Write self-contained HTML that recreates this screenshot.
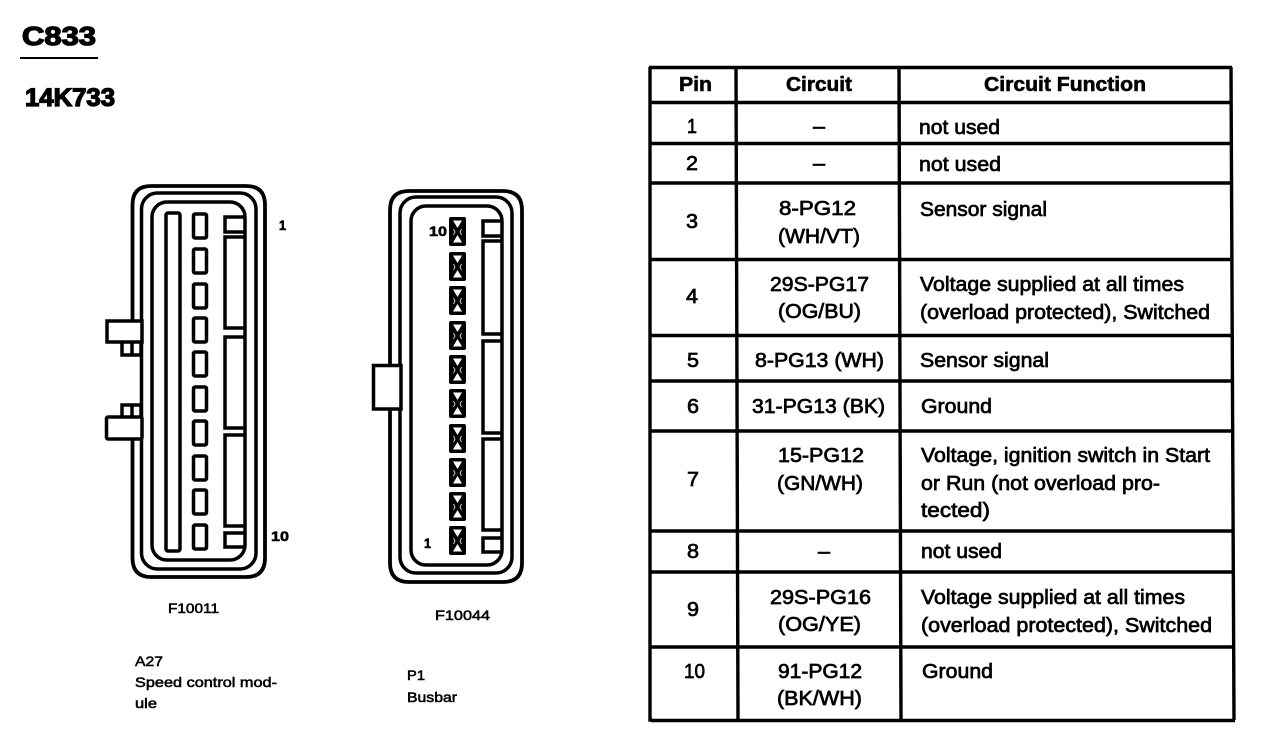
<!DOCTYPE html>
<html><head><meta charset="utf-8"><style>
html,body{margin:0;padding:0;background:#fff}
svg{display:block}
text{font-family:"Liberation Sans",sans-serif;fill:#000;stroke:#000;stroke-width:.7}
.b{font-weight:bold;stroke-width:.6}
.h{font-weight:bold;stroke-width:1.3}
.t{font-size:20px}
.s{font-size:14px;stroke-width:.55}
.l{fill:none;stroke:#000;stroke-width:3.5}
.f{stroke-width:3.8}
</style></head><body>
<svg width="1264" height="756" viewBox="0 0 1264 756" xmlns="http://www.w3.org/2000/svg">
<defs>
<g id="p"><rect x="193.500" y="0" width="13" height="24" rx="1.500" class="l" transform="translate(0,1)"/></g>
<g id="x">
<rect x="449" y="0" width="17" height="29" rx="2" fill="#000"/>
<path d="M453 3.500h9l-4.500 7.500zM453 25.500h9l-4.500-7.500z" fill="#fff"/>
<path d="M453.500 12l1.500 3-1.500 3M461.500 12l-1.500 3 1.500 3" fill="none" stroke="#fff" stroke-width=".8"/>
</g>
</defs>

<!-- Titles -->
<text x="22" y="45" class="h" font-size="26" textLength="74" lengthAdjust="spacingAndGlyphs">C833</text>
<path d="M20 58H98" stroke="#000" stroke-width="2"/>
<text x="25" y="106" class="h" font-size="25" textLength="90" lengthAdjust="spacingAndGlyphs">14K733</text>

<!-- Connector 1 -->
<path class="l f" d="M132.500 321V205Q132.500 186 151 186H246Q265 186 265 205V558Q265 577 246 577H151Q132.500 577 132.500 558V439"/>
<rect class="l" x="141.500" y="193" width="114.500" height="376" rx="16"/>
<rect class="l" x="152" y="202" width="93" height="358" rx="15"/>
<rect class="l" x="166" y="213" width="14" height="338" rx="2"/>
<use href="#p" y="213"/><use href="#p" y="248"/><use href="#p" y="283"/><use href="#p" y="317"/><use href="#p" y="351"/>
<use href="#p" y="386"/><use href="#p" y="420"/><use href="#p" y="455"/><use href="#p" y="489"/><use href="#p" y="524"/>
<path class="l" d="M245 217H225V232H245M245 237H225V328H245M245 337H225V428H245M245 435H225V526H245M245 533H225V547H245"/>
<rect x="107" y="321" width="35" height="21" class="l" style="fill:#fff"/>
<path class="l" d="M141 342V355H122V342M132 342V355"/>
<rect x="106.500" y="417" width="35.500" height="22" rx="1.500" class="l" style="fill:#fff"/>
<path class="l" d="M141 417V405H122V417M132 405V417"/>
<text x="279" y="230" class="b s" textLength="7" lengthAdjust="spacingAndGlyphs">1</text>
<text x="271" y="541" class="b s" textLength="18" lengthAdjust="spacingAndGlyphs">10</text>

<!-- Connector 2 -->
<path class="l f" d="M390 365V210Q390 191 409 191H503Q522 191 522 210V563Q522 582 503 582H409Q390 582 390 563V409"/>
<rect class="l" x="400" y="197" width="112" height="376" rx="16"/>
<rect class="l" x="411" y="206" width="91" height="359" rx="15"/>
<use href="#x" y="217"/><use href="#x" y="252"/><use href="#x" y="286"/><use href="#x" y="321"/><use href="#x" y="355"/>
<use href="#x" y="389"/><use href="#x" y="424"/><use href="#x" y="458"/><use href="#x" y="492"/><use href="#x" y="526"/>
<path class="l" d="M502 221H483V236H502M502 241H483V334H502M502 341H483V433H502M502 439H483V530H502M502 538H483V552H502"/>
<rect x="373.500" y="365.500" width="27.500" height="43.500" class="l" style="fill:#fff"/>
<text x="429" y="236" class="b s" textLength="18" lengthAdjust="spacingAndGlyphs">10</text>
<text x="424" y="548" class="b s" textLength="7" lengthAdjust="spacingAndGlyphs">1</text>

<!-- Captions -->
<text x="168" y="613" class="s" textLength="51" lengthAdjust="spacingAndGlyphs">F10011</text>
<text x="435" y="620" class="s" textLength="55" lengthAdjust="spacingAndGlyphs">F10044</text>
<text x="135" y="666" class="s" textLength="28" lengthAdjust="spacingAndGlyphs">A27</text>
<text x="135" y="687" class="s" textLength="142" lengthAdjust="spacingAndGlyphs">Speed control mod-</text>
<text x="135" y="708" class="s" textLength="22" lengthAdjust="spacingAndGlyphs">ule</text>
<text x="407" y="680" class="s" textLength="18" lengthAdjust="spacingAndGlyphs">P1</text>
<text x="407" y="702" class="s" textLength="50" lengthAdjust="spacingAndGlyphs">Busbar</text>

<!-- Table -->
<g fill="none" stroke="#000" stroke-width="3.400">
<path d="M650 67V720H652M736 67L738 720M899 67L901 720M1231 67L1234 720"/>
<path d="M649 67.500H1232M649 102.500H1232M650 143.500H1232M650 183H1232M650 259.500H1233M650 335.500H1233M651 381H1233M651 431H1233M651 531H1234M651 572H1234M651 647H1234M651 720.500H1235"/>
</g>

<text x="679" y="91" class="b t" textLength="33" lengthAdjust="spacingAndGlyphs">Pin</text>
<text x="786" y="91" class="b t" textLength="66" lengthAdjust="spacingAndGlyphs">Circuit</text>
<text x="984" y="91" class="b t" textLength="162" lengthAdjust="spacingAndGlyphs">Circuit Function</text>

<g>
<text x="687" y="133" class="t" textLength="10" lengthAdjust="spacingAndGlyphs">1</text>
<text x="813" y="133" class="t" textLength="12" lengthAdjust="spacingAndGlyphs">–</text>
<text x="919" y="134" class="t" textLength="81" lengthAdjust="spacingAndGlyphs">not used</text>

<text x="686" y="170" class="t" textLength="12" lengthAdjust="spacingAndGlyphs">2</text>
<text x="813" y="170" class="t" textLength="12" lengthAdjust="spacingAndGlyphs">–</text>
<text x="919" y="171" class="t" textLength="82" lengthAdjust="spacingAndGlyphs">not used</text>

<text x="686" y="228" class="t" textLength="12" lengthAdjust="spacingAndGlyphs">3</text>
<text x="779" y="215" class="t" textLength="77" lengthAdjust="spacingAndGlyphs">8-PG12</text>
<text x="778" y="243" class="t" textLength="82" lengthAdjust="spacingAndGlyphs">(WH/VT)</text>
<text x="920" y="216" class="t" textLength="127" lengthAdjust="spacingAndGlyphs">Sensor signal</text>

<text x="686" y="303" class="t" textLength="12" lengthAdjust="spacingAndGlyphs">4</text>
<text x="770" y="291" class="t" textLength="99" lengthAdjust="spacingAndGlyphs">29S-PG17</text>
<text x="778" y="318" class="t" textLength="83" lengthAdjust="spacingAndGlyphs">(OG/BU)</text>
<text x="920" y="291" class="t" textLength="264" lengthAdjust="spacingAndGlyphs">Voltage supplied at all times</text>
<text x="920" y="319" class="t" textLength="290" lengthAdjust="spacingAndGlyphs">(overload protected), Switched</text>

<text x="687" y="367" class="t" textLength="12" lengthAdjust="spacingAndGlyphs">5</text>
<text x="755" y="367" class="t" textLength="129" lengthAdjust="spacingAndGlyphs">8-PG13 (WH)</text>
<text x="920" y="367" class="t" textLength="129" lengthAdjust="spacingAndGlyphs">Sensor signal</text>

<text x="687" y="413" class="t" textLength="12" lengthAdjust="spacingAndGlyphs">6</text>
<text x="752" y="413" class="t" textLength="133" lengthAdjust="spacingAndGlyphs">31-PG13 (BK)</text>
<text x="921" y="413" class="t" textLength="71" lengthAdjust="spacingAndGlyphs">Ground</text>

<text x="687" y="486" class="t" textLength="12" lengthAdjust="spacingAndGlyphs">7</text>
<text x="778" y="462" class="t" textLength="86" lengthAdjust="spacingAndGlyphs">15-PG12</text>
<text x="777" y="490" class="t" textLength="86" lengthAdjust="spacingAndGlyphs">(GN/WH)</text>
<text x="921" y="462" class="t" textLength="289" lengthAdjust="spacingAndGlyphs">Voltage, ignition switch in Start</text>
<text x="921" y="490" class="t" textLength="239" lengthAdjust="spacingAndGlyphs">or Run (not overload pro-</text>
<text x="921" y="517" class="t" textLength="69" lengthAdjust="spacingAndGlyphs">tected)</text>

<text x="687" y="558" class="t" textLength="12" lengthAdjust="spacingAndGlyphs">8</text>
<text x="818" y="558" class="t" textLength="12" lengthAdjust="spacingAndGlyphs">–</text>
<text x="921" y="558" class="t" textLength="81" lengthAdjust="spacingAndGlyphs">not used</text>

<text x="687" y="616" class="t" textLength="12" lengthAdjust="spacingAndGlyphs">9</text>
<text x="770" y="604" class="t" textLength="101" lengthAdjust="spacingAndGlyphs">29S-PG16</text>
<text x="778" y="631" class="t" textLength="83" lengthAdjust="spacingAndGlyphs">(OG/YE)</text>
<text x="921" y="604" class="t" textLength="264" lengthAdjust="spacingAndGlyphs">Voltage supplied at all times</text>
<text x="921" y="632" class="t" textLength="291" lengthAdjust="spacingAndGlyphs">(overload protected), Switched</text>

<text x="684" y="678" class="t" textLength="21" lengthAdjust="spacingAndGlyphs">10</text>
<text x="778" y="678" class="t" textLength="84" lengthAdjust="spacingAndGlyphs">91-PG12</text>
<text x="777" y="705" class="t" textLength="85" lengthAdjust="spacingAndGlyphs">(BK/WH)</text>
<text x="922" y="678" class="t" textLength="71" lengthAdjust="spacingAndGlyphs">Ground</text>
</g>
</svg>
</body></html>
